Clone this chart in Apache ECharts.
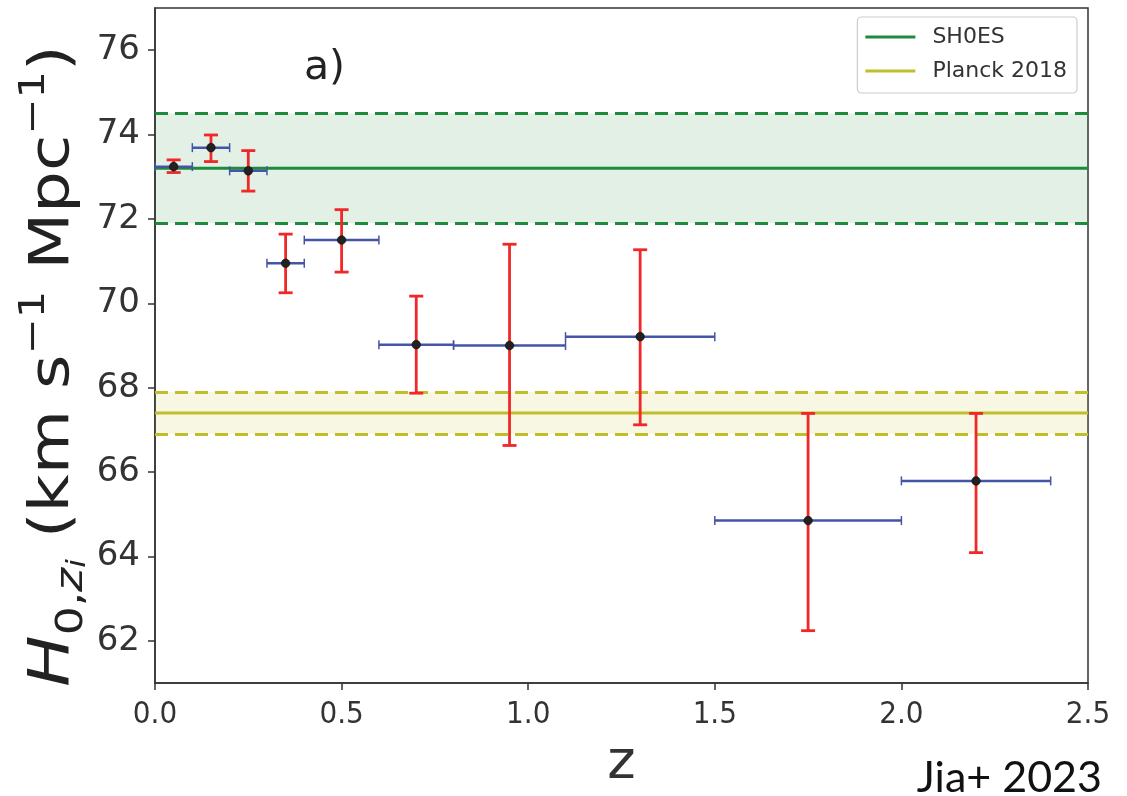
<!DOCTYPE html>
<html>
<head>
<meta charset="utf-8">
<script src="https://cdn.jsdelivr.net/npm/echarts@6/dist/echarts.min.js"></script>
<style>
  html, body { margin: 0; padding: 0; background: #fff; }
  #chart { width: 1127px; height: 796px; }
</style>
</head>
<body>
<div id="chart"></div>
<script>
// Redshift bins: centre, lower and upper edges
const zMid  = [0.05, 0.15, 0.25, 0.35, 0.5, 0.7, 0.95, 1.3, 1.75, 2.2];
const zLow  = [0.0, 0.1, 0.2, 0.3, 0.4, 0.6, 0.8, 1.1, 1.5, 2.0];
const zHigh = [0.1, 0.2, 0.3, 0.4, 0.6, 0.8, 1.1, 1.5, 2.0, 2.4];

// H0 per bin with its 1-sigma interval
const h0     = [73.24, 73.69, 73.14, 70.95, 71.50, 69.02, 69.00, 69.21, 64.85, 65.79];
const h0Low  = [73.10, 73.36, 72.66, 70.25, 70.74, 67.87, 66.63, 67.12, 62.24, 64.09];
const h0High = [73.40, 73.99, 73.62, 71.64, 72.22, 70.17, 71.40, 71.27, 67.39, 67.39];

// Reference measurements: central value and band edges
const shoes  = { name: 'SH0ES', value: 73.2, low: 71.9, high: 74.5 };
const planck = { name: 'Planck 2018', value: 67.4, low: 66.9, high: 67.9 };

// Axis ticks
const xTicks = [0.0, 0.5, 1.0, 1.5, 2.0, 2.5];
const yTicks = [62, 64, 66, 68, 70, 72, 74, 76];

const SH0ES_COLOR = '#1e8a3c';
const PLANCK_COLOR = '#bfbf2e';
const YERR_COLOR = '#f02828';
const XERR_COLOR = '#4455a6';
const AXIS_COLOR = '#333';

const binData = zMid.map((z, i) => [z, h0[i], zLow[i], zHigh[i], h0Low[i], h0High[i]]);

function refSeries(ref, color, fill) {
  return {
    name: ref.name,
    type: 'line',
    data: [[0, ref.value], [2.5, ref.value]],
    symbol: 'none',
    silent: true,
    z: 1,
    lineStyle: { color: color, width: 3 },
    itemStyle: { color: color },
    markLine: {
      silent: true,
      symbol: 'none',
      label: { show: false },
      lineStyle: { color: color, width: 3, type: [13, 7] },
      data: [{ yAxis: ref.high }, { yAxis: ref.low }]
    },
    markArea: {
      silent: true,
      itemStyle: { color: fill },
      data: [[{ yAxis: ref.low }, { yAxis: ref.high }]]
    }
  };
}

function renderBin(params, api) {
  const z = api.value(0), h = api.value(1);
  const c = api.coord([z, h]);
  const xl = api.coord([api.value(2), h]);
  const xh = api.coord([api.value(3), h]);
  const yl = api.coord([z, api.value(4)]);
  const yh = api.coord([z, api.value(5)]);
  const blue = { stroke: XERR_COLOR, lineWidth: 2.5 };
  const blueCap = { stroke: XERR_COLOR, lineWidth: 1.5 };
  const red = { stroke: YERR_COLOR, lineWidth: 2.8 };
  return {
    type: 'group',
    children: [
      { type: 'line', shape: { x1: xl[0], y1: c[1], x2: xh[0], y2: c[1] }, style: blue },
      { type: 'line', shape: { x1: xl[0], y1: c[1] - 4.5, x2: xl[0], y2: c[1] + 4.5 }, style: blueCap },
      { type: 'line', shape: { x1: xh[0], y1: c[1] - 4.5, x2: xh[0], y2: c[1] + 4.5 }, style: blueCap },
      { type: 'line', shape: { x1: c[0], y1: yl[1], x2: c[0], y2: yh[1] }, style: red },
      { type: 'line', shape: { x1: c[0] - 7, y1: yl[1], x2: c[0] + 7, y2: yl[1] }, style: red },
      { type: 'line', shape: { x1: c[0] - 7, y1: yh[1], x2: c[0] + 7, y2: yh[1] }, style: red },
      { type: 'circle', shape: { cx: c[0], cy: c[1], r: 4.3 }, style: { fill: '#222', stroke: '#000', lineWidth: 0.5 } }
    ]
  };
}

const chart = echarts.init(document.getElementById('chart'), null, { renderer: 'canvas' });

chart.setOption({
  backgroundColor: '#fff',
  animation: false,
  grid: {
    left: 155, right: 39, top: 8, bottom: 111,
    show: true, borderColor: AXIS_COLOR, borderWidth: 1.5, backgroundColor: 'transparent'
  },
  legend: {
    right: 50, top: 17,
    orient: 'vertical',
    backgroundColor: '#fff',
    borderColor: '#cccccc', borderWidth: 1.2, borderRadius: 4,
    padding: [9, 10, 11, 8],
    itemGap: 12,
    icon: 'rect', itemWidth: 50, itemHeight: 3,
    textStyle: { fontFamily: 'DejaVu Sans', fontSize: 22, color: '#333', padding: [0, 0, 0, 12] },
    data: [shoes.name, planck.name]
  },
  xAxis: {
    type: 'value', min: 0, max: 2.5, interval: 0.5,
    name: 'z', nameLocation: 'middle', nameGap: 54,
    nameTextStyle: { fontFamily: 'DejaVu Sans', fontSize: 54, color: '#333' },
    axisLine: { show: true, onZero: false, lineStyle: { color: AXIS_COLOR, width: 1.5 } },
    axisTick: { show: true, length: 7, lineStyle: { color: AXIS_COLOR, width: 1.5 }, customValues: xTicks },
    axisLabel: {
      customValues: xTicks, margin: 16, color: '#333',
      fontFamily: 'DejaVu Sans Condensed', fontSize: 31,
      formatter: v => v.toFixed(1)
    },
    splitLine: { show: false }
  },
  yAxis: {
    type: 'value', min: 61, max: 77,
    axisLine: { show: true, onZero: false, lineStyle: { color: AXIS_COLOR, width: 1.5 } },
    axisTick: { show: true, length: 7, lineStyle: { color: AXIS_COLOR, width: 1.5 }, customValues: yTicks },
    axisLabel: {
      customValues: yTicks, margin: 15, color: '#333',
      fontFamily: 'DejaVu Sans', fontSize: 34
    },
    splitLine: { show: false }
  },
  graphic: [
    {
      type: 'text', left: 304, top: 48,
      style: { text: 'a)', fontFamily: 'DejaVu Sans', fontSize: 41, fill: '#222' }
    },
    {
      type: 'text', right: 25, bottom: -4,
      style: { text: 'Jia+ 2023', fontFamily: 'Lato', fontSize: 43, fill: '#111' }
    },
    {
      type: 'text', x: 54, y: 366, rotation: Math.PI / 2, scaleX: 1.2,
      style: {
        text: '{h|H}{s|0,}{sz|z}{ss|i}{n| (km s}{p|−1}{n| Mpc}{p|−1}{n|)}',
        align: 'center', verticalAlign: 'middle', fill: '#222',
        rich: {
          h: { fontFamily: 'DejaVu Sans', fontStyle: 'italic', fontSize: 57, lineHeight: 74, verticalAlign: 'middle' },
          s: { fontFamily: 'DejaVu Sans', fontSize: 38, lineHeight: 42, verticalAlign: 'bottom' },
          sz: { fontFamily: 'DejaVu Sans', fontStyle: 'italic', fontSize: 38, lineHeight: 42, verticalAlign: 'bottom' },
          ss: { fontFamily: 'DejaVu Sans', fontStyle: 'italic', fontSize: 26, lineHeight: 20, verticalAlign: 'bottom' },
          n: { fontFamily: 'DejaVu Sans', fontSize: 55, lineHeight: 74, verticalAlign: 'middle' },
          p: { fontFamily: 'DejaVu Sans', fontSize: 36, lineHeight: 40, verticalAlign: 'top' }
        }
      }
    }
  ],
  series: [
    refSeries(shoes, SH0ES_COLOR, 'rgba(30,138,60,0.13)'),
    refSeries(planck, PLANCK_COLOR, 'rgba(191,191,46,0.13)'),
    {
      name: 'bins',
      type: 'custom',
      data: binData,
      renderItem: renderBin,
      z: 5,
      silent: true
    }
  ]
});
</script>
</body>
</html>
